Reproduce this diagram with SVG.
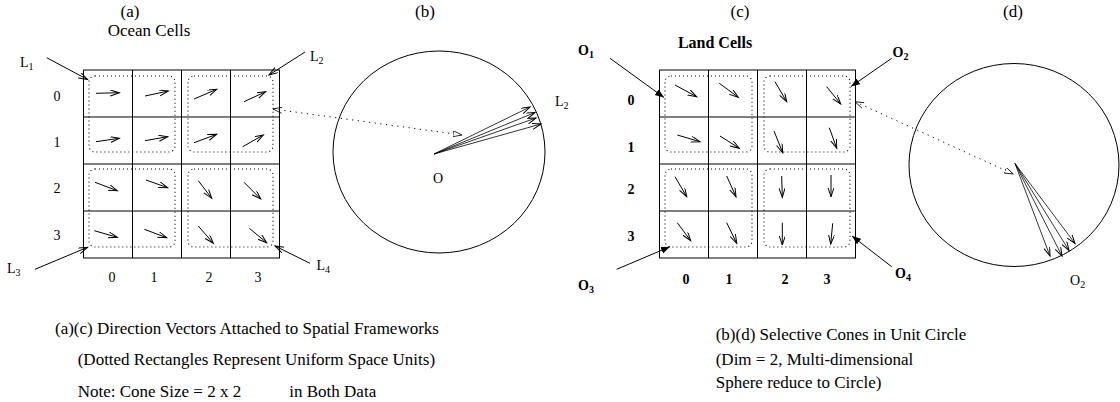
<svg xmlns="http://www.w3.org/2000/svg" width="1120" height="402" viewBox="0 0 1120 402">
<style>
text{font-family:"Liberation Serif","Times New Roman",serif;fill:#000}
.t{font-size:17px}
.lb{font-size:14px}
.b{font-weight:bold}
.sub{font-size:10px}
.grid{stroke:#000;stroke-width:1;fill:none}
.dr{stroke:#000;stroke-width:1.1;fill:none;stroke-dasharray:1 3}
.v{stroke:#000;stroke-width:1;fill:none;marker-end:url(#ah)}
.f{stroke:#000;stroke-width:0.8;fill:none;marker-end:url(#ah)}
.so{stroke:#000;stroke-width:1;fill:none;marker-end:url(#sh)}
.dt{stroke:#000;stroke-width:1;fill:none;stroke-dasharray:1.2 4.5;marker-start:url(#dh0);marker-end:url(#dh)}
</style>
<defs>
<marker id="ah" markerUnits="userSpaceOnUse" markerWidth="12" markerHeight="8" refX="9" refY="3" orient="auto">
<path d="M0,0 L9,3 L0,6" fill="none" stroke="#000" stroke-width="1"/>
</marker>
<marker id="sh" markerUnits="userSpaceOnUse" markerWidth="12" markerHeight="8" refX="9" refY="3.5" orient="auto">
<path d="M0,0 L9,3.5 L0,7 Z" fill="#000"/>
</marker>
<marker id="dh" markerUnits="userSpaceOnUse" markerWidth="12" markerHeight="8" refX="9" refY="3" orient="auto">
<path d="M0,0 L9,3 L0,6 Z" fill="#fff" stroke="#000" stroke-width="0.8"/>
</marker>
<marker id="dh0" markerUnits="userSpaceOnUse" markerWidth="12" markerHeight="8" refX="0" refY="3" orient="auto">
<path d="M9,0 L0,3 L9,6" fill="none" stroke="#000" stroke-width="0.8"/>
</marker>
</defs>
<rect width="1120" height="402" fill="#fff"/>

<!-- Panel (a) -->
<g id="panel-a">
<text class="t" x="130" y="17" text-anchor="middle">(a)</text>
<text class="t" x="149" y="36" text-anchor="middle">Ocean Cells</text>
<g class="grid">
<rect x="83.5" y="70" width="196" height="188"/>
<path d="M132.5,70 V258 M181.5,70 V258 M230.5,70 V258 M83.5,117 H279.5 M83.5,164 H279.5 M83.5,211 H279.5"/>
</g>
<rect class="dr" x="89" y="76" width="86" height="76" rx="6"/>
<rect class="dr" x="188" y="76" width="85" height="76" rx="6"/>
<rect class="dr" x="89" y="169" width="86" height="78" rx="6"/>
<rect class="dr" x="188" y="169" width="85" height="78" rx="6"/>
<g>
<line class="v" x1="96" y1="93.3" x2="119.3" y2="92.7"/>
<line class="v" x1="145" y1="96" x2="168.3" y2="91"/>
<line class="v" x1="194" y1="99" x2="216.7" y2="89.3"/>
<line class="v" x1="244" y1="101.7" x2="265.7" y2="91.7"/>
<line class="v" x1="96" y1="141.7" x2="119.3" y2="138.3"/>
<line class="v" x1="145" y1="140.7" x2="167.7" y2="136.7"/>
<line class="v" x1="194" y1="142.7" x2="216.7" y2="134.3"/>
<line class="v" x1="242.7" y1="146.7" x2="263.3" y2="135"/>
<line class="v" x1="95" y1="182.3" x2="117.3" y2="190.7"/>
<line class="v" x1="146" y1="180" x2="167.7" y2="187.7"/>
<line class="v" x1="198.3" y1="180.7" x2="211.7" y2="198.3"/>
<line class="v" x1="244" y1="182.3" x2="260.7" y2="199"/>
<line class="v" x1="94.3" y1="230.7" x2="117.3" y2="237.3"/>
<line class="v" x1="144.3" y1="229.3" x2="166.7" y2="237.7"/>
<line class="v" x1="198.3" y1="226" x2="213.3" y2="243.3"/>
<line class="v" x1="249.3" y1="228.3" x2="266.7" y2="242.7"/>
</g>
<g class="lb" text-anchor="middle">
<text x="57" y="100.7">0</text>
<text x="57" y="146.7">1</text>
<text x="57" y="193.3">2</text>
<text x="57" y="240">3</text>
<text x="112" y="281.7">0</text>
<text x="154" y="281.7">1</text>
<text x="209" y="281.7">2</text>
<text x="258" y="281.7">3</text>
</g>
<text class="lb" x="20" y="66.5">L<tspan class="sub" dy="3">1</tspan></text>
<text class="lb" x="7" y="273">L<tspan class="sub" dy="3">3</tspan></text>
<text class="lb" x="310" y="61">L<tspan class="sub" dy="3">2</tspan></text>
<text class="lb" x="316.5" y="270">L<tspan class="sub" dy="3">4</tspan></text>
</g>

<!-- Panel (b) -->
<g id="panel-b">
<text class="t" x="425" y="17" text-anchor="middle">(b)</text>
<ellipse cx="439" cy="152" rx="106" ry="101" fill="none" stroke="#000" stroke-width="1"/>
<line class="f" x1="434" y1="154" x2="530" y2="107"/>
<line class="f" x1="434" y1="154" x2="535" y2="112.5"/>
<line class="f" x1="434" y1="154" x2="536" y2="118"/>
<line class="f" x1="434" y1="154" x2="541" y2="124"/>
<text class="lb" x="438" y="182.7" text-anchor="middle">O</text>
<text class="lb" x="555" y="106">L<tspan class="sub" dy="3">2</tspan></text>
</g>

<!-- Panel (c) -->
<g id="panel-c">
<text class="t" x="740" y="17" text-anchor="middle">(c)</text>
<text class="t b" x="715" y="48" text-anchor="middle" style="font-size:16px">Land Cells</text>
<g class="grid">
<rect x="659.5" y="70" width="196" height="188"/>
<path d="M708.5,70 V258 M757.5,70 V258 M806.5,70 V258 M659.5,117 H855.5 M659.5,164 H855.5 M659.5,211 H855.5"/>
</g>
<rect class="dr" x="665" y="76" width="87" height="76" rx="6"/>
<rect class="dr" x="764" y="76" width="86" height="76" rx="6"/>
<rect class="dr" x="665" y="169" width="87" height="78" rx="6"/>
<rect class="dr" x="764" y="169" width="86" height="78" rx="6"/>
<g>
<line class="v" x1="675" y1="85" x2="696.7" y2="96.7"/>
<line class="v" x1="719.3" y1="83.3" x2="738.3" y2="97.3"/>
<line class="v" x1="775" y1="81.7" x2="786.7" y2="101.7"/>
<line class="v" x1="826.7" y1="86.7" x2="840.7" y2="104"/>
<line class="v" x1="677.3" y1="135" x2="700" y2="141.7"/>
<line class="v" x1="720" y1="136" x2="739.3" y2="148.3"/>
<line class="v" x1="774" y1="131" x2="782.7" y2="152.7"/>
<line class="v" x1="829.3" y1="127.7" x2="836.7" y2="148.3"/>
<line class="v" x1="675" y1="176.7" x2="686.7" y2="196.7"/>
<line class="v" x1="726.7" y1="176" x2="736" y2="196.7"/>
<line class="v" x1="781.7" y1="176" x2="782.3" y2="197.3"/>
<line class="v" x1="831" y1="175" x2="831" y2="196.7"/>
<line class="v" x1="677.3" y1="222.7" x2="690.7" y2="240.7"/>
<line class="v" x1="726.7" y1="222.7" x2="736.7" y2="243.3"/>
<line class="v" x1="782.3" y1="222.7" x2="782.3" y2="245"/>
<line class="v" x1="832.7" y1="223.3" x2="830.7" y2="244"/>
</g>
<g class="lb b" text-anchor="middle">
<text x="631" y="105">0</text>
<text x="631" y="151.5">1</text>
<text x="631" y="194">2</text>
<text x="631" y="240.5">3</text>
<text x="686" y="284">0</text>
<text x="729" y="284">1</text>
<text x="785" y="284">2</text>
<text x="827" y="284">3</text>
</g>
<text class="lb b" x="578" y="55">O<tspan class="sub" dy="3">1</tspan></text>
<text class="lb b" x="578" y="290">O<tspan class="sub" dy="3">3</tspan></text>
<text class="lb b" x="892.5" y="56.5">O<tspan class="sub" dy="3">2</tspan></text>
<text class="lb b" x="895" y="278">O<tspan class="sub" dy="3">4</tspan></text>
</g>

<!-- Panel (d) -->
<g id="panel-d">
<text class="t" x="1013" y="17" text-anchor="middle">(d)</text>
<ellipse cx="1014" cy="165" rx="105" ry="101.5" fill="none" stroke="#000" stroke-width="1"/>
<line class="f" x1="1015" y1="163.5" x2="1050" y2="256"/>
<line class="f" x1="1015" y1="163.5" x2="1062" y2="256"/>
<line class="f" x1="1015" y1="163.5" x2="1069" y2="250.5"/>
<line class="f" x1="1015" y1="163.5" x2="1075" y2="243.5"/>
<text class="lb" x="1070" y="285">O<tspan class="sub" dy="3">2</tspan></text>
</g>

<!-- Connectors -->
<g id="connectors">
<line class="v" x1="46.7" y1="57.7" x2="87.5" y2="79.5"/>
<line class="v" x1="35" y1="269.3" x2="87.5" y2="247.3"/>
<line class="v" x1="305" y1="52" x2="269" y2="75"/>
<line class="v" x1="310" y1="263.3" x2="275" y2="246"/>
<line class="dt" x1="273" y1="109" x2="462" y2="135"/>
<line class="so" x1="610" y1="58.3" x2="664" y2="97.5"/>
<line class="so" x1="616.7" y1="269.3" x2="670" y2="246.7"/>
<line class="so" x1="891.7" y1="58.3" x2="851" y2="86.5"/>
<line class="so" x1="891.7" y1="266.7" x2="852" y2="236"/>
<line class="dt" x1="855" y1="101.7" x2="1013.3" y2="174"/>
</g>

<!-- Captions -->
<g id="captions" class="t">
<text x="55" y="334">(a)(c) Direction Vectors Attached to Spatial Frameworks</text>
<text x="77.7" y="365">(Dotted Rectangles Represent Uniform Space Units)</text>
<text x="77.7" y="397">Note: Cone Size = 2 x 2</text>
<text x="289.3" y="397">in Both Data</text>
<text x="715.7" y="340">(b)(d) Selective Cones in Unit Circle</text>
<text x="715.7" y="364.5">(Dim = 2, Multi-dimensional</text>
<text x="715.7" y="388">Sphere reduce to Circle)</text>
</g>
</svg>
